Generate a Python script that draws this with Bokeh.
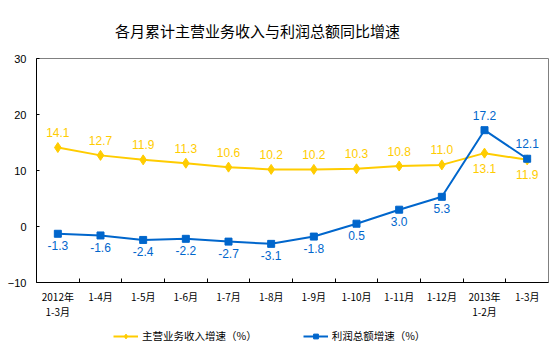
from bokeh.plotting import figure
from bokeh.layouts import column
from bokeh.models import (Range1d, FixedTicker, Legend, LegendItem, ColumnDataSource)
from bokeh.core.properties import value
from bokeh.embed import file_html
from bokeh.resources import INLINE

categories = ["2012年", "1-4月", "1-5月", "1-6月", "1-7月", "1-8月", "1-9月",
              "1-10月", "1-11月", "1-12月", "2013年", "1-3月"]
categories_line2 = ["1-3月", "", "", "", "", "", "", "", "", "", "1-2月", ""]
revenue = [14.1, 12.7, 11.9, 11.3, 10.6, 10.2, 10.2, 10.3, 10.8, 11.0, 13.1, 11.9]
profit = [-1.3, -1.6, -2.4, -2.2, -2.7, -3.1, -1.8, 0.5, 3.0, 5.3, 17.2, 12.1]
y_ticks = [-10, 0, 10, 20, 30]
title_text = "各月累计主营业务收入与利润总额同比增速"
legend_labels = ["主营业务收入增速（%）", "利润总额增速（%）"]

YELLOW = "#FFCC00"
BLUE = "#0066CC"
NUM_FONT = "Liberation Sans"
CJK_FONT = "Noto Sans CJK SC"

n = len(categories)
xs = [i + 0.5 for i in range(n)]
ymin, ymax = y_ticks[0], y_ticks[-1]

def bare(fig):
    fig.outline_line_color = None
    fig.background_fill_color = "white"
    fig.border_fill_color = "white"
    fig.grid.visible = False
    return fig

# ---------- header strip: title ----------
head_w, head_h = 512, 51
p0 = bare(figure(frame_width=head_w, frame_height=head_h, output_backend="svg", toolbar_location=None,
                 x_range=Range1d(0, head_w), y_range=Range1d(0, head_h),
                 x_axis_location=None, y_axis_location=None,
                 min_border_left=36, min_border_right=7, min_border_top=0, min_border_bottom=0))
p0.text(x=[221], y=[head_h], text=[title_text], y_offset=30, text_font=value(CJK_FONT),
        text_font_size="15px", text_color="#000000", text_align="center", text_baseline="middle")

# ---------- main plot ----------
p = figure(frame_width=512, frame_height=224, output_backend="svg", toolbar_location=None,
           x_range=Range1d(0, n), y_range=Range1d(ymin, ymax),
           min_border_left=36, min_border_right=7, min_border_top=7, min_border_bottom=7)
p.background_fill_color = "white"
p.border_fill_color = "white"
p.outline_line_color = "#808080"
p.outline_line_width = 1
p.grid.visible = False

xa = p.xaxis[0]
xa.ticker = FixedTicker(ticks=[], minor_ticks=list(range(1, n)))
xa.major_label_text_font_size = "0px"
xa.major_label_standoff = 0
xa.major_tick_in = 0
xa.major_tick_out = 0
xa.minor_tick_in = 4
xa.minor_tick_out = 0
xa.minor_tick_line_color = "black"
xa.axis_line_color = "black"

ya = p.yaxis[0]
ya.ticker = FixedTicker(ticks=y_ticks)
ya.major_tick_in = 3
ya.major_tick_out = 0
ya.minor_tick_line_color = None
ya.axis_line_color = "black"
ya.major_label_text_font = NUM_FONT
ya.major_label_text_font_size = "11px"
ya.major_label_text_color = "#000000"
ya.major_label_standoff = 10

p.line(xs, revenue, line_color=YELLOW, line_width=2)
p.scatter(xs, revenue, marker="diamond", size=10, fill_color=YELLOW, line_color=YELLOW)
p.line(xs, profit, line_color=BLUE, line_width=2)
p.scatter(xs, profit, marker="square", size=7, fill_color=BLUE, line_color=BLUE)

rev_above = ColumnDataSource(dict(x=xs[:-2], y=revenue[:-2], t=[f"{v:.1f}" for v in revenue[:-2]]))
rev_below = ColumnDataSource(dict(x=xs[-2:], y=revenue[-2:], t=[f"{v:.1f}" for v in revenue[-2:]]))
pro_below = ColumnDataSource(dict(x=xs[:-2], y=profit[:-2], t=[f"{v:.1f}" for v in profit[:-2]]))
pro_above = ColumnDataSource(dict(x=xs[-2:], y=profit[-2:], t=[f"{v:.1f}" for v in profit[-2:]]))
for src, col, off in [(rev_above, YELLOW, -15), (rev_below, YELLOW, 15),
                      (pro_below, BLUE, 12), (pro_above, BLUE, -15)]:
    p.text(x="x", y="y", text="t", source=src, text_color=col, text_font=value(NUM_FONT),
           text_font_size="12px", text_align="center", text_baseline="middle", y_offset=off)

# ---------- bottom strip: category labels and legend ----------
strip_h = 61
p2 = bare(figure(frame_width=512, frame_height=strip_h, output_backend="svg", toolbar_location=None,
                 x_range=p.x_range, y_range=Range1d(0, strip_h),
                 x_axis_location=None, y_axis_location=None,
                 min_border_left=36, min_border_right=7, min_border_top=0, min_border_bottom=0))

cat_src1 = ColumnDataSource(dict(x=xs, y=[strip_h] * n, t=categories))
cat_src2 = ColumnDataSource(dict(x=xs, y=[strip_h] * n, t=categories_line2))
for src, off in [(cat_src1, 7), (cat_src2, 22)]:
    p2.text(x="x", y="y", text="t", source=src, y_offset=off,
            text_font=value(CJK_FONT), text_font_size="10px", text_color="#000000",
            text_align="center", text_baseline="middle")

# legend proxies (one point each, kept below the strip's visible range)
proxy_x, proxy_y = xs[:1], [-strip_h]
g1 = p2.line(proxy_x, proxy_y, line_color=YELLOW, line_width=2)
g2 = p2.scatter(proxy_x, proxy_y, marker="diamond", size=10, fill_color=YELLOW, line_color=YELLOW)
g3 = p2.line(proxy_x, proxy_y, line_color=BLUE, line_width=2)
g4 = p2.scatter(proxy_x, proxy_y, marker="square", size=7, fill_color=BLUE, line_color=BLUE)

legend = Legend(items=[LegendItem(label=legend_labels[0], renderers=[g1, g2]),
                       LegendItem(label=legend_labels[1], renderers=[g3, g4])],
                orientation="horizontal", location=(77, 7),
                label_text_font=CJK_FONT, label_text_font_size="10.5px", label_text_color="#000000",
                glyph_width=25, glyph_height=12, label_standoff=4, spacing=46,
                border_line_color=None, background_fill_alpha=0, padding=0, margin=0)
p2.add_layout(legend, "center")

open("out.html", "w").write(file_html(column(p0, p, p2, spacing=0), INLINE))
